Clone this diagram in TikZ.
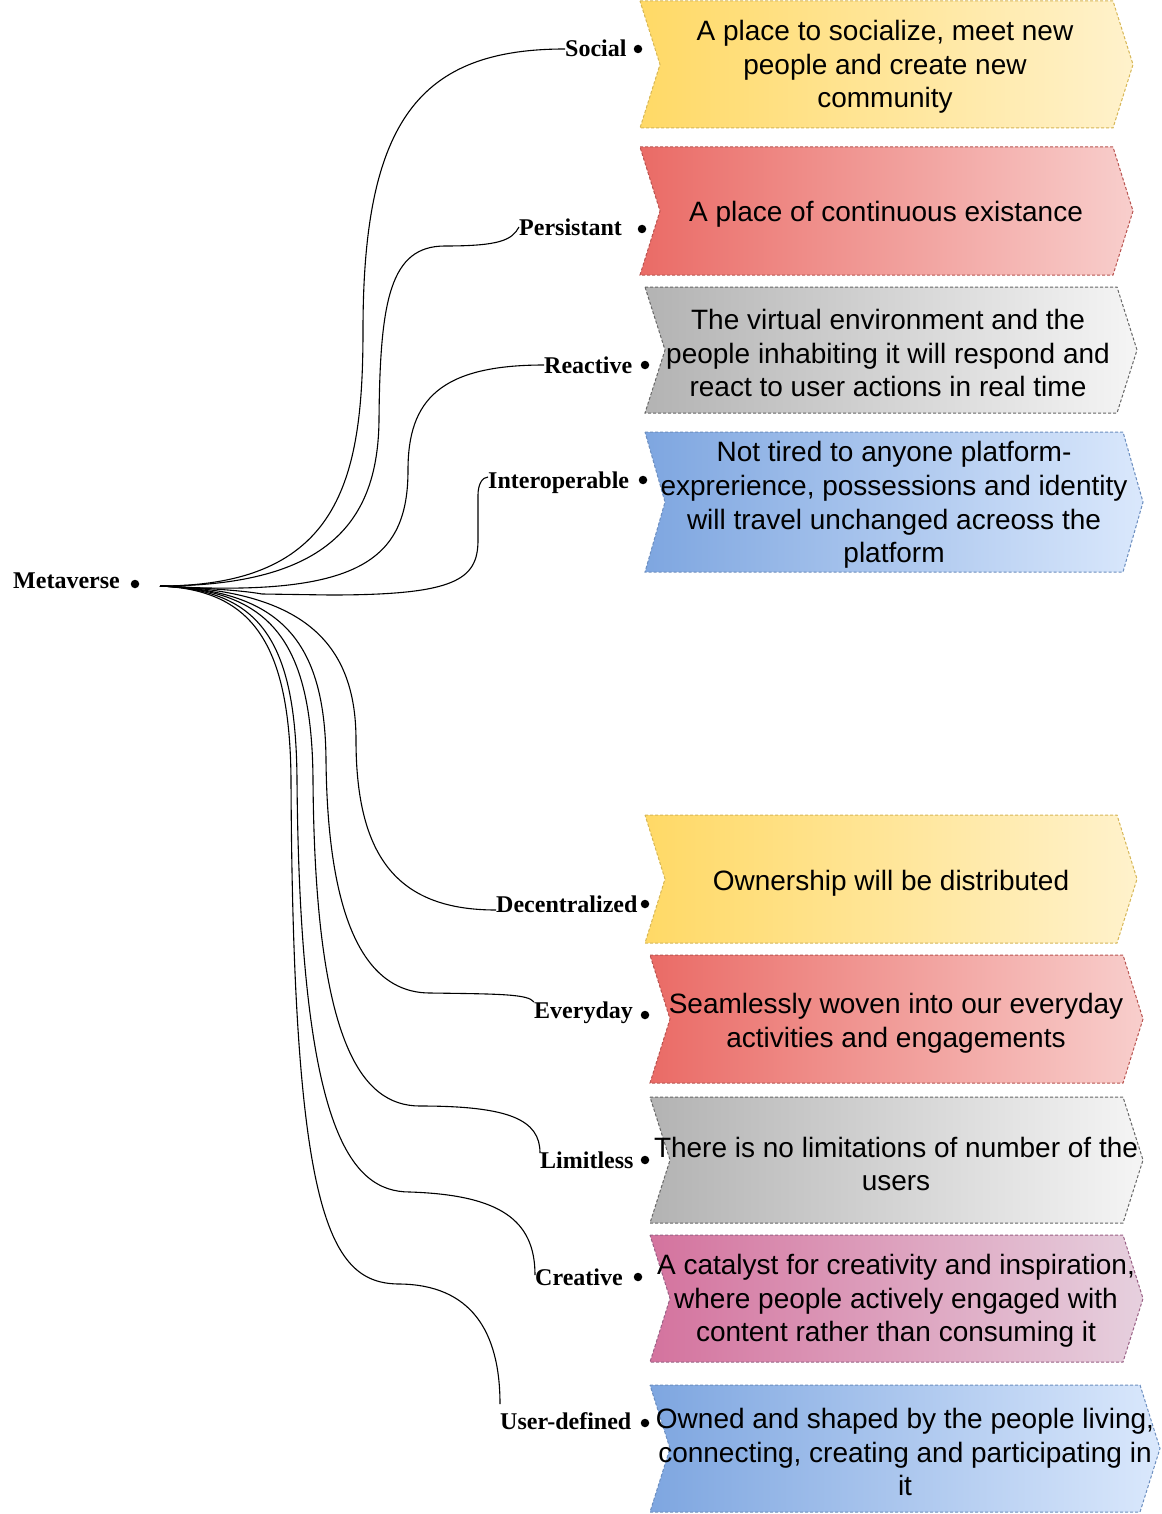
\documentclass[tikz,border=0pt]{standalone}
\usepackage{fontspec}
\setmainfont{Liberation Serif}
\newfontfamily\boxfont{Liberation Sans}
\usetikzlibrary{calc}
\definecolor{yL}{HTML}{FFD966}\definecolor{yR}{HTML}{FFF2CC}\definecolor{yB}{HTML}{D6B656}
\definecolor{rL}{HTML}{EA6B66}\definecolor{rR}{HTML}{F8CECC}\definecolor{rB}{HTML}{B85450}
\definecolor{gL}{HTML}{B3B3B3}\definecolor{gR}{HTML}{F5F5F5}\definecolor{gB}{HTML}{666666}
\definecolor{bL}{HTML}{7EA6E0}\definecolor{bR}{HTML}{DAE8FC}\definecolor{bB}{HTML}{6C8EBF}
\definecolor{pL}{HTML}{D4739E}\definecolor{pR}{HTML}{E6D0DE}\definecolor{pB}{HTML}{996185}
\tikzset{
  lbl/.style={font=\fontsize{24}{28}\selectfont\bfseries, inner sep=0pt, anchor=base west},
  bulletdot/.style={circle, fill=black, inner sep=0pt, minimum size=8.5pt},
  boxtxt/.style={font=\boxfont\fontsize{28}{33.6}\selectfont, align=center, inner sep=0pt},
  conn/.style={line width=1.1pt, black},
  chevbase/.style={line width=1pt, dash pattern=on 3pt off 2pt},
  yellowbox/.style={chevbase, left color=yL, right color=yR, draw=yB},
  redbox/.style={chevbase, left color=rL, right color=rR, draw=rB},
  graybox/.style={chevbase, left color=gL, right color=gR, draw=gB},
  bluebox/.style={chevbase, left color=bL, right color=bR, draw=bB},
  pinkbox/.style={chevbase, left color=pL, right color=pR, draw=pB},
}
\newcommand\chevshape[5]{%
  \path[#1] (#2,#3) -- ({#4-20},#3) -- (#4,{(#3+#5)/2}) -- ({#4-20},#5) -- (#2,#5) -- ({#2+20},{(#3+#5)/2}) -- cycle;}
\begin{document}
\begin{tikzpicture}[x=1pt,y=-1pt]
\useasboundingbox (0,0) rectangle (1161,1514);

% chevron boxes
\chevshape{yellowbox}{640}{1}{1133}{128}
\chevshape{redbox}{640}{147}{1133}{275}
\chevshape{graybox}{645}{287}{1137}{413}
\chevshape{bluebox}{645}{432}{1143}{572}
\chevshape{yellowbox}{645}{815}{1137}{943}
\chevshape{redbox}{650}{955}{1143}{1083}
\chevshape{graybox}{650}{1097}{1143}{1223}
\chevshape{pinkbox}{650}{1235}{1143}{1362}
\chevshape{bluebox}{650}{1385}{1160}{1512}

% box texts
\node[boxtxt] (t1) at (885,67) {A place to socialize, meet new\\people and create new\\community};
\node[boxtxt] (t2) at (886,214) {A place of continuous existance};
\node[boxtxt] (t3) at (888,353) {The virtual environment and the\\people inhabiting it will respond and\\react to user actions in real time};
\node[boxtxt] (t4) at (894,505) {Not tired to anyone platform-\\exprerience, possessions and identity\\will travel unchanged acreoss the\\platform};
\node[boxtxt] (t5) at (891,883) {Ownership will be distributed};
\node[boxtxt] (t6) at (896,1023) {Seamlessly woven into our everyday\\activities and engagements};
\node[boxtxt] (t7) at (896,1164) {There is no limitations of number of the\\users};
\node[boxtxt] (t8) at (896,1301) {A catalyst for creativity and inspiration,\\where people actively engaged with\\content rather than consuming it};
\node[boxtxt] (t9) at (905,1452) {Owned and shaped by the people living,\\connecting, creating and participating in\\it};

% labels
\node[lbl] (meta) at (13,588) {Metaverse};
\node[lbl] (soc) at (565,57) {Social};
\node[lbl] (pers) at (519,236) {Persistant};
\node[lbl] (reac) at (544,373) {Reactive};
\node[lbl] (inter) at (488,488) {Interoperable};
\node[lbl] (dec) at (496,912) {Decentralized};
\node[lbl] (every) at (534,1018) {Everyday};
\node[lbl] (limit) at (540,1168) {Limitless};
\node[lbl] (creat) at (535,1285) {Creative};
\node[lbl] (user) at (500,1429) {User-defined};

% bullets
\node[bulletdot] (d0) at (135,584) {};
\node[bulletdot] (d1) at (638,49) {};
\node[bulletdot] (d2) at (642,229) {};
\node[bulletdot] (d3) at (645,365) {};
\node[bulletdot] (d4) at (643,480) {};
\node[bulletdot] (d5) at (645,904) {};
\node[bulletdot] (d6) at (645,1015) {};
\node[bulletdot] (d7) at (645,1160) {};
\node[bulletdot] (d8) at (638,1277) {};
\node[bulletdot] (d9) at (645,1423) {};

\coordinate (hub) at (160,586);

% connectors
\draw[conn] (hub) .. controls (340,586) and (363,480) .. (363,330)
  .. controls (363,120) and (420,49) .. ($(soc.base west)+(0,-8)$);
\draw[conn] (hub) .. controls (330,586) and (378,520) .. (379,420)
  .. controls (380,300) and (390,246) .. (445,246)
  .. controls (500,246) and (512,240) .. ($(pers.base west)+(0,-9)$);
\draw[conn] (hub) .. controls (360,598) and (408,560) .. (408,470)
  .. controls (408,400) and (440,365) .. ($(reac.base west)+(0,-8)$);
\draw[conn] (hub) .. controls (200,588) and (240,590) .. (262,594) -- (330,595)
  .. controls (455,595) and (478,580) .. (478,540) -- (478,495)
  .. controls (478,485) and (482,477) .. ($(inter.base west)+(0,-11)$);
\draw[conn] (hub) .. controls (300,590) and (356,640) .. (356,740)
  .. controls (356,860) and (400,910) .. ($(dec.base west)+(0,-2)$);
\draw[conn] (hub) .. controls (280,590) and (325,640) .. (326,760)
  .. controls (328,950) and (380,993) .. (430,993)
  .. controls (500,994) and (528,994) .. ($(every.base west)+(0,-16)$);
\draw[conn] (hub) .. controls (270,590) and (312,640) .. (313,780)
  .. controls (315,1040) and (360,1106) .. (420,1106)
  .. controls (510,1106) and (540,1120) .. ($(limit.base west)+(0,-15)$);
\draw[conn] (hub) .. controls (260,590) and (296,640) .. (297,780)
  .. controls (300,1130) and (350,1192) .. (410,1192)
  .. controls (500,1195) and (535,1220) .. ($(creat.base west)+(0,-10)$);
\draw[conn] (hub) .. controls (250,590) and (290,640) .. (291,780)
  .. controls (293,1220) and (330,1284) .. (400,1284)
  .. controls (470,1285) and (500,1330) .. ($(user.base west)+(0,-25)$);
\end{tikzpicture}
\end{document}
